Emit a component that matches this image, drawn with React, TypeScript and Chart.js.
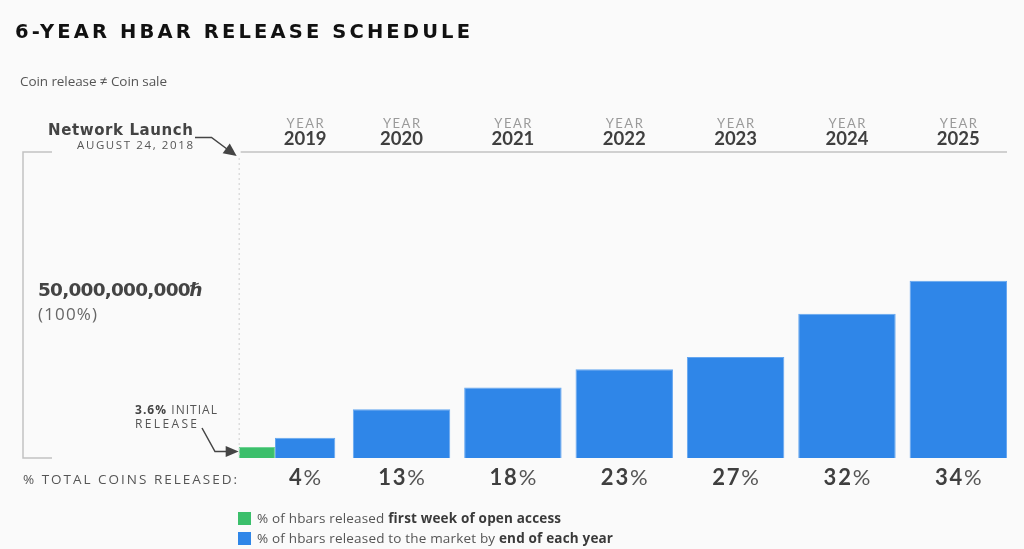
import React, { useEffect, useRef } from "react";
import { Chart, registerables } from "chart.js";

Chart.register(...registerables);

// ---- data ----
const years = ["2019", "2020", "2021", "2022", "2023", "2024", "2025"];
// "% TOTAL COINS RELEASED" labels printed under the bars
const percentReleased = [4, 13, 18, 23, 27, 32, 34];
// bar heights as drawn in the picture, in % of the 50,000,000,000ℏ bracket (100%)
const initialRelease = [3.6, null, null, null, null, null, null];
const firstYearRelease = [6.6, null, null, null, null, null, null];
const endOfYearRelease = [null, 15.9, 23.0, 29.0, 33.0, 47.1, 57.9];

const GREEN = "#3bbf6b";
const BLUE = "#2f86e8";
const BG = "#fafafa";
const DARK = "#3f3f3f";
const LINE = "#c2c2c2";
const FONT = "Lato, 'Open Sans', sans-serif";
const BODY = "'Open Sans', Lato, sans-serif";
const WIDE = "'DejaVu Sans', sans-serif";

function arrowHead(ctx: CanvasRenderingContext2D, fx: number, fy: number, tx: number, ty: number, len: number, half: number) {
  const a = Math.atan2(ty - fy, tx - fx);
  const bx = tx - Math.cos(a) * len;
  const by = ty - Math.sin(a) * len;
  ctx.beginPath();
  ctx.moveTo(tx, ty);
  ctx.lineTo(bx + Math.sin(a) * half, by - Math.cos(a) * half);
  ctx.lineTo(bx - Math.sin(a) * half, by + Math.cos(a) * half);
  ctx.closePath();
  ctx.fill();
}

const overlayPlugin = {
  id: "hbarOverlay",
  afterDatasetsDraw(chart: any) {
    const ctx: CanvasRenderingContext2D = chart.ctx;
    const area = chart.chartArea;
    const g = chart.getDatasetMeta(0).data[0];
    const b19 = chart.getDatasetMeta(1).data[0];
    const rest = chart.getDatasetMeta(2).data;
    const centers = years.map((_, i) => (i === 0 ? b19.x : rest[i].x));
    const gLeft = g.x - g.width / 2;
    const last = rest[rest.length - 1];
    const right = last.x + last.width / 2;

    ctx.save();
    // header rule
    ctx.strokeStyle = LINE;
    ctx.lineWidth = 1.5;
    ctx.beginPath();
    ctx.moveTo(gLeft + 2, area.top);
    ctx.lineTo(right, area.top);
    ctx.stroke();

    // dotted launch line
    ctx.strokeStyle = "#cfcfcf";
    ctx.lineWidth = 1;
    ctx.setLineDash([2, 3]);
    ctx.beginPath();
    ctx.moveTo(gLeft + 0.5, area.top + 6);
    ctx.lineTo(gLeft + 0.5, area.bottom);
    ctx.stroke();
    ctx.setLineDash([]);

    // left bracket (100%)
    ctx.strokeStyle = LINE;
    ctx.lineWidth = 1.5;
    ctx.beginPath();
    ctx.moveTo(52, area.top);
    ctx.lineTo(23, area.top);
    ctx.lineTo(23, area.bottom);
    ctx.lineTo(52, area.bottom);
    ctx.stroke();

    // arrows
    ctx.strokeStyle = "#444";
    ctx.fillStyle = "#444";
    ctx.lineWidth = 1.5;
    ctx.beginPath();
    ctx.moveTo(195, 137.5);
    ctx.lineTo(211.5, 137.5);
    ctx.lineTo(229, 150.5);
    ctx.stroke();
    arrowHead(ctx, 211.5, 137.5, gLeft - 2, area.top + 4, 13, 6);
    const gy = (g.y + g.base) / 2 - 1;
    ctx.beginPath();
    ctx.moveTo(202, 428);
    ctx.lineTo(215, gy);
    ctx.lineTo(228, gy);
    ctx.stroke();
    arrowHead(ctx, 215, gy, gLeft, gy, 13, 5.5);

    // year headers
    ctx.textAlign = "center";
    ctx.textBaseline = "alphabetic";
    centers.forEach((cx: number, i: number) => {
      ctx.fillStyle = "#9a9a9a";
      ctx.font = `400 13px ${FONT}`;
      (ctx as any).letterSpacing = "1.5px";
      ctx.fillText("YEAR", cx + 0.75, 127.6);
      (ctx as any).letterSpacing = "0px";
      ctx.fillStyle = DARK;
      ctx.font = `700 18.5px ${FONT}`;
      ctx.fillText(years[i], cx, 145);
    });

    // percent labels
    ctx.textAlign = "left";
    const LS = 1.8;
    (ctx as any).letterSpacing = `${LS}px`;
    centers.forEach((cx: number, i: number) => {
      const num = String(percentReleased[i]);
      ctx.font = `700 22px ${FONT}`;
      const wn = ctx.measureText(num).width;
      ctx.font = `400 22px ${FONT}`;
      const wp = ctx.measureText("%").width;
      const x0 = cx - (wn + wp - LS) / 2;
      ctx.fillStyle = DARK;
      ctx.font = `700 22px ${FONT}`;
      ctx.fillText(num, x0, 485);
      ctx.fillStyle = "#555";
      ctx.font = `400 22px ${FONT}`;
      ctx.fillText("%", x0 + wn, 485);
    });
    (ctx as any).letterSpacing = "0px";
    ctx.restore();
  },
};

// ---- text helper: fits letter-spacing so the text spans a target width ----
let measureCtx: CanvasRenderingContext2D | null = null;
function textWidth(text: string, size: number, weight: number, family: string) {
  if (!measureCtx) measureCtx = document.createElement("canvas").getContext("2d");
  const c = measureCtx as CanvasRenderingContext2D;
  c.font = `${weight} ${size}px ${family}`;
  return c.measureText(text).width;
}

type Part = { t: string; w?: number; c?: string };
type TProps = {
  x: number;
  y: number;
  size: number;
  width: number;
  parts: Part[];
  weight?: number;
  color?: string;
  family?: string;
  right?: boolean;
};

function T({ x, y, size, width, parts, weight = 400, color = DARK, family = BODY, right = false }: TProps) {
  let natural = 0;
  let n = 0;
  parts.forEach((p) => {
    natural += textWidth(p.t, size, p.w ?? weight, family);
    n += Array.from(p.t).length;
  });
  const ls = n > 1 ? (width - natural) / (n - 1) : 0;
  const style: React.CSSProperties = {
    position: "absolute",
    top: y,
    transform: "translateY(-50%)",
    fontSize: size,
    fontWeight: weight,
    color,
    letterSpacing: ls,
    fontFamily: family,
    lineHeight: 1,
    whiteSpace: "nowrap",
  };
  if (right) style.right = 1024 - x - ls;
  else style.left = x;
  return (
    <div style={style}>
      {parts.map((p, i) => (
        <span key={i} style={{ fontWeight: p.w ?? weight, color: p.c ?? color }}>
          {p.t}
        </span>
      ))}
    </div>
  );
}

export default function App() {
  const ref = useRef<HTMLCanvasElement>(null);

  useEffect(() => {
    const chart = new Chart(ref.current as HTMLCanvasElement, {
      type: "bar",
      data: {
        labels: years,
        datasets: [
          {
            label: "% of hbars released first week of open access",
            data: initialRelease as any,
            backgroundColor: GREEN,
            borderColor: "#6fd394",
            borderWidth: 1,
            stack: "g",
            categoryPercentage: 1.198,
            barPercentage: 0.544,
            skipNull: true,
          } as any,
          {
            label: "% of hbars released by end of 2019",
            data: firstYearRelease as any,
            backgroundColor: BLUE,
            borderColor: "#64a6f0",
            borderWidth: 1,
            stack: "b19",
            categoryPercentage: 0.537,
            barPercentage: 2.017,
            skipNull: true,
          } as any,
          {
            label: "% of hbars released to the market by end of each year",
            data: endOfYearRelease as any,
            backgroundColor: BLUE,
            borderColor: "#64a6f0",
            borderWidth: 1,
            stack: "b",
            categoryPercentage: 1,
            barPercentage: 0.875,
            skipNull: true,
          } as any,
        ],
      },
      options: {
        responsive: false,
        animation: false,
        layout: { padding: { left: 234.5, right: 10, top: 152, bottom: 91 } },
        scales: {
          x: { display: false, offset: true, grid: { display: false } },
          y: { display: false, min: 0, max: 100 },
        },
        plugins: { legend: { display: false }, tooltip: { enabled: false } },
      },
      plugins: [overlayPlugin],
    });
    return () => chart.destroy();
  }, []);

  return (
    <div
      style={{
        position: "fixed",
        left: 0,
        top: 0,
        width: 1024,
        height: 549,
        background: BG,
        overflow: "hidden",
        fontFamily: BODY,
      }}
    >
      <canvas ref={ref} width={1024} height={549} style={{ position: "absolute", left: 0, top: 0 }} />

      <T x={15} y={32} size={19.5} width={455} weight={700} color="#111" family={WIDE}
        parts={[{ t: "6-YEAR HBAR RELEASE SCHEDULE" }]} />
      <T x={20} y={82} size={13.5} width={147} color="#555" parts={[{ t: "Coin release ≠ Coin sale" }]} />

      <T x={193} y={130} size={15} width={145} weight={700} color="#444" family={WIDE} right
        parts={[{ t: "Network Launch" }]} />
      <T x={193} y={144.5} size={11.5} width={116} color="#555" right parts={[{ t: "AUGUST 24, 2018" }]} />

      <T x={38} y={290} size={18.5} width={165} weight={700} color="#444" family={WIDE}
        parts={[{ t: "50,000,000,000ℏ" }]} />
      <T x={38} y={313} size={17} width={59} color="#666" parts={[{ t: "(100%)" }]} />

      <T x={135} y={409.5} size={12} width={82} color="#555"
        parts={[{ t: "3.6%", w: 700, c: "#444" }, { t: " INITIAL" }]} />
      <T x={135} y={423.5} size={12} width={62} color="#555" parts={[{ t: "RELEASE" }]} />

      <T x={23} y={480} size={13.5} width={214} color="#555" parts={[{ t: "% TOTAL COINS RELEASED:" }]} />

      <div style={{ position: "absolute", left: 238, top: 512, width: 13, height: 13, background: GREEN }} />
      <T x={257} y={518.5} size={13.5} width={304} color="#555"
        parts={[{ t: "% of hbars released " }, { t: "first week of open access", w: 700, c: "#3a3a3a" }]} />
      <div style={{ position: "absolute", left: 238, top: 532, width: 13, height: 13, background: BLUE }} />
      <T x={257} y={538.5} size={13.5} width={356} color="#555"
        parts={[{ t: "% of hbars released to the market by " }, { t: "end of each year", w: 700, c: "#3a3a3a" }]} />
    </div>
  );
}
